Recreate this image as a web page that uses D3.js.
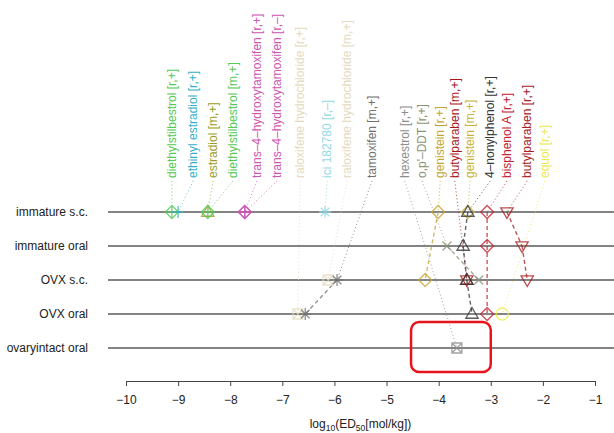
<!DOCTYPE html>
<html><head><meta charset="utf-8">
<script src="https://cdn.jsdelivr.net/npm/d3@7/dist/d3.min.js"></script>
<style>body{margin:0;background:#fff}svg{display:block;font-family:"Liberation Sans",Arial,Helvetica,sans-serif}</style>
</head><body><svg id="c" width="614" height="433"></svg>
<script>
// ---- data ----
const rows = ["immature s.c.", "immature oral", "OVX s.c.", "OVX oral", "ovaryintact oral"];
const xTicks = [-10, -9, -8, -7, -6, -5, -4, -3, -2, -1];
const compounds = [
  "diethylstilbestrol [r,+]", "ethinyl estradiol [r,+]", "estradiol [m,+]", "diethylstilbestrol [m,+]",
  "trans–4–hydroxytamoxifen [r,+]", "trans–4–hydroxytamoxifen [r,–]", "raloxifene hydrochloride [r,+]",
  "ici 182780 [r,–]", "raloxifene hydrochloride [m,+]", "tamoxifen [m,+]", "hexestrol [r,+]",
  "o,p'–DDT [r,+]", "genistein [r,+]", "butylparaben [m,+]", "genistein [m,+]", "4–nonylphenol [r,+]",
  "bisphenol A [r,+]", "butylparaben [r,+]", "equol [r,+]"
];
// label anchor positions along the axis (log10 units)
const labelAt = [-9.12, -8.71, -8.33, -7.95, -7.49, -7.10, -6.66, -6.14, -5.76, -5.28, -4.65, -4.32, -3.97, -3.69, -3.40, -3.01, -2.69, -2.30, -1.96];
// log10(ED50) per compound, per row (null = not tested)
const ed50 = [
  [-9.12, null, null, null, null],
  [-9.00, null, null, null, null],
  [-8.43, null, null, null, null],
  [-8.43, null, null, null, null],
  [-7.72, null, null, null, null],
  [-7.72, null, null, null, null],
  [null, null, null, -6.70, null],
  [-6.18, null, null, null, null],
  [null, null, -6.12, null, null],
  [null, null, -5.95, -6.56, null],
  [null, null, null, null, -3.65],
  [null, -3.84, -3.23, null, null],
  [-4.01, null, -4.26, null, null],
  [null, null, -3.46, null, null],
  [-3.44, null, null, null, null],
  [-3.44, -3.53, -3.46, -3.36, null],
  [-3.07, -3.07, null, -3.07, null],
  [-2.69, -2.40, -2.30, null, null],
  [null, null, null, -2.78, null]
];
const symbols = ["diamondPlus", "plus", "triangle", "diamondPlus", "diamondPlus", "diamondPlus", "boxX",
  "asterisk", "boxX", "asterisk", "boxX", "cross", "diamond", "star", "diamond", "triangle",
  "diamond", "triangleDown", "circle"];
const colors = ["#55c855", "#35b0c8", "#9c9c22", "#55c855", "#cc55b0", "#cc55b0", "#e4dabd",
  "#95d8e6", "#e4dabd", "#707070", "#8c8c8c", "#8a9276", "#c4a530", "#a81818", "#c8b238", "#333333",
  "#c42030", "#a82020", "#eaea50"];

// ---- layout ----
const svg = d3.select("#c");
const x = d3.scaleLinear().domain([-10, -1]).range([126, 595]);
const xPlot = [-10.345, -0.635];
const y = d3.scalePoint().domain(rows).range([212, 348]);
const labelBottom = 178;

// row label + lines
svg.append("g").selectAll("line").data(rows).join("line")
  .attr("x1", x(xPlot[0])).attr("x2", x(xPlot[1]))
  .attr("y1", d => y(d)).attr("y2", d => y(d))
  .attr("stroke", "#5a5a5a").attr("stroke-width", 1.5);
svg.append("g").selectAll("text").data(rows).join("text")
  .attr("x", 88).attr("y", d => y(d)).attr("dy", "0.35em")
  .attr("text-anchor", "end").attr("font-size", 12).attr("fill", "#222").text(d => d);

// axis
const axis = svg.append("g").attr("transform", "translate(0,381)")
  .call(d3.axisBottom(x).tickValues(xTicks).tickSize(5).tickFormat(d3.format("d")));
axis.select(".domain").attr("stroke", "#444");
axis.selectAll(".tick line").attr("stroke", "#444");
axis.selectAll(".tick text").attr("font-size", 12).attr("fill", "#222").attr("dy", "1.25em")
  .attr("font-family", "Liberation Sans, Arial, sans-serif");
const title = svg.append("text").attr("x", x(-5.5)).attr("y", 428).attr("text-anchor", "middle")
  .attr("font-size", 12).attr("fill", "#222");
title.append("tspan").text("log");
title.append("tspan").attr("font-size", 8.5).attr("dy", 3).text("10");
title.append("tspan").attr("dy", -3).text("(ED");
title.append("tspan").attr("font-size", 8.5).attr("dy", 3).text("50");
title.append("tspan").attr("dy", -3).text("[mol/kg])");

// symbol paths
function sym(type) {
  const r = 6.5, t = 6.5;
  switch (type) {
    case "diamond": return `M0,${-r}L${r},0L0,${r}L${-r},0Z`;
    case "diamondPlus": return `M0,${-r}L${r},0L0,${r}L${-r},0ZM0,${-r}V${r}M${-r},0H${r}`;
    case "plus": return `M0,-6V6M-6,0H6`;
    case "cross": return `M-4.5,-4.5L4.5,4.5M-4.5,4.5L4.5,-4.5`;
    case "asterisk": return `M0,-6V6M-6,0H6M-4.3,-4.3L4.3,4.3M-4.3,4.3L4.3,-4.3`;
    case "boxX": return `M-5,-5H5V5H-5ZM-5,-5L5,5M-5,5L5,-5`;
    case "triangle": return `M0,${-t}L${t * 0.95},${t * 0.65}L${-t * 0.95},${t * 0.65}Z`;
    case "triangleDown": return `M0,${t}L${t * 0.95},${-t * 0.65}L${-t * 0.95},${-t * 0.65}Z`;
    case "star": return `M0,${-t}L${t * 0.95},${t * 0.65}L${-t * 0.95},${t * 0.65}ZM0,${t}L${t * 0.95},${-t * 0.65}L${-t * 0.95},${-t * 0.65}Z`;
    case "circle": return `M6,0A6,6 0 1,1 -6,0A6,6 0 1,1 6,0Z`;
  }
}

const items = compounds.map((name, i) => ({
  name, color: colors[i], symbol: symbols[i], lx: labelAt[i],
  pts: ed50[i].map((v, r) => v == null ? null : { v, row: rows[r] }).filter(p => p)
}));

// leaders (dotted) and connectors (dashed)
const gl = svg.append("g");
items.forEach(it => {
  const first = it.pts[0];
  gl.append("line").attr("x1", x(it.lx)).attr("y1", labelBottom + 3)
    .attr("x2", x(first.v)).attr("y2", y(first.row))
    .attr("stroke", it.color).attr("stroke-width", 1).attr("stroke-dasharray", "1,2.5").attr("opacity", 0.8);
  for (let k = 1; k < it.pts.length; k++) {
    gl.append("line").attr("x1", x(it.pts[k - 1].v)).attr("y1", y(it.pts[k - 1].row))
      .attr("x2", x(it.pts[k].v)).attr("y2", y(it.pts[k].row))
      .attr("stroke", it.color).attr("stroke-width", 1.4).attr("stroke-dasharray", "4,3").attr("opacity", 0.75);
  }
});

// markers
const gm = svg.append("g");
items.forEach(it => {
  gm.selectAll(null).data(it.pts).join("path")
    .attr("transform", p => `translate(${x(p.v)},${y(p.row)})`)
    .attr("d", sym(it.symbol)).attr("fill", "none")
    .attr("stroke", it.color).attr("stroke-width", 1.3).attr("opacity", 0.8);
});

// labels
svg.append("g").selectAll("text").data(items).join("text")
  .attr("transform", d => `translate(${x(d.lx)},${labelBottom}) rotate(-90)`)
  .attr("dy", "0.35em").attr("font-size", 12).attr("fill", d => d.color).text(d => d.name);

// highlight box around the ovaryintact oral result
const bx0 = x(-4.53), bx1 = x(-3.0);
svg.append("rect").attr("x", bx0).attr("y", y("ovaryintact oral") - 26)
  .attr("width", bx1 - bx0).attr("height", 50).attr("rx", 8)
  .attr("fill", "none").attr("stroke", "#e8141c").attr("stroke-width", 2.5);
</script></body></html>
